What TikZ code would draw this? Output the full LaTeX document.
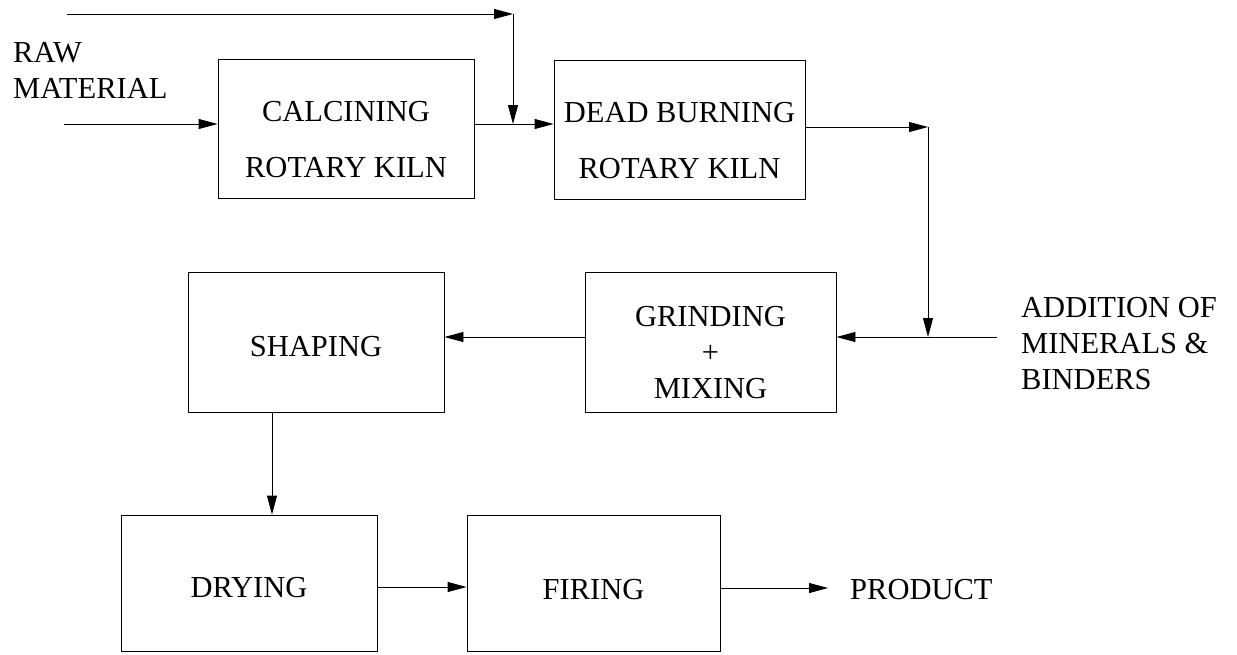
\documentclass[tikz,border=0pt]{standalone}
\usepackage{fontspec}
\setmainfont{Liberation Serif}
\usetikzlibrary{arrows.meta}
\begin{document}
\begin{tikzpicture}[x=1pt, y=-1pt,
    box/.style={draw, line width=0.9pt, inner sep=0pt, align=center,
        minimum width=254pt, minimum height=139pt,
        font=\fontsize{30.5}{36}\selectfont},
    tag/.style={inner sep=0pt, align=left, font=\fontsize{30.5}{36}\selectfont},
    flow/.style={line width=0.9pt, -{Triangle[length=19pt, width=10pt]}}]
\useasboundingbox (0,0) rectangle (1237,654);
\node[box, minimum width=256pt, text height=99pt] (calc) at (346,128.5) {CALCINING\\[20pt]ROTARY KILN};
\node[box, minimum width=251pt, text height=99pt] (dead) at (679.5,129.5) {DEAD BURNING\\[20pt]ROTARY KILN};
\node[box, minimum width=251pt, minimum height=140pt, text height=114pt] (grind) at (710.5,342) {GRINDING\\+\\MIXING};
\node[box, minimum width=256pt, minimum height=140pt, text height=30pt] (shape) at (316,342) {SHAPING};
\node[box, minimum width=256pt, minimum height=136pt, text height=30pt] (dry) at (249,583) {DRYING};
\node[box, minimum width=253pt, minimum height=136pt, text height=33pt] (fire) at (593.5,583) {FIRING};
\node[tag, anchor=north west] (raw) at (13,42) {RAW\\MATERIAL};
\node[tag, anchor=north west] (add) at (1021,297) {ADDITION OF\\MINERALS \&\\BINDERS};
\node[tag, anchor=west] (product) at (850,590) {PRODUCT};
\coordinate (rawin) at (64,124);
\coordinate (feed) at (67,14);
\coordinate (bend) at (513,14);
\coordinate (merge) at (513,124);
\coordinate (turn) at (928,127);
\coordinate (join) at (928,337);
\coordinate (addend) at (997,337);
\draw[flow] (rawin) -- (calc.west |- rawin);
\draw[flow] (feed) -- (bend);
\draw[flow] (bend) -- (merge);
\draw[flow] (calc.east |- merge) -- (dead.west |- merge);
\draw[flow] (dead.east |- turn) -- (turn);
\draw[flow] (turn) -- (join);
\draw[flow] (addend) -- (grind.east |- join);
\draw[flow] (grind.west |- join) -- (shape.east |- join);
\draw[flow] ([xshift=-44pt]shape.south) -- ([xshift=23pt]dry.north);
\draw[flow] ([yshift=-4pt]dry.east) -- ([yshift=-4pt]fire.west);
\draw[flow, shorten >=22pt] ([yshift=-5pt]fire.east) -- ([yshift=-5pt]fire.east -| product.west);
\end{tikzpicture}
\end{document}
